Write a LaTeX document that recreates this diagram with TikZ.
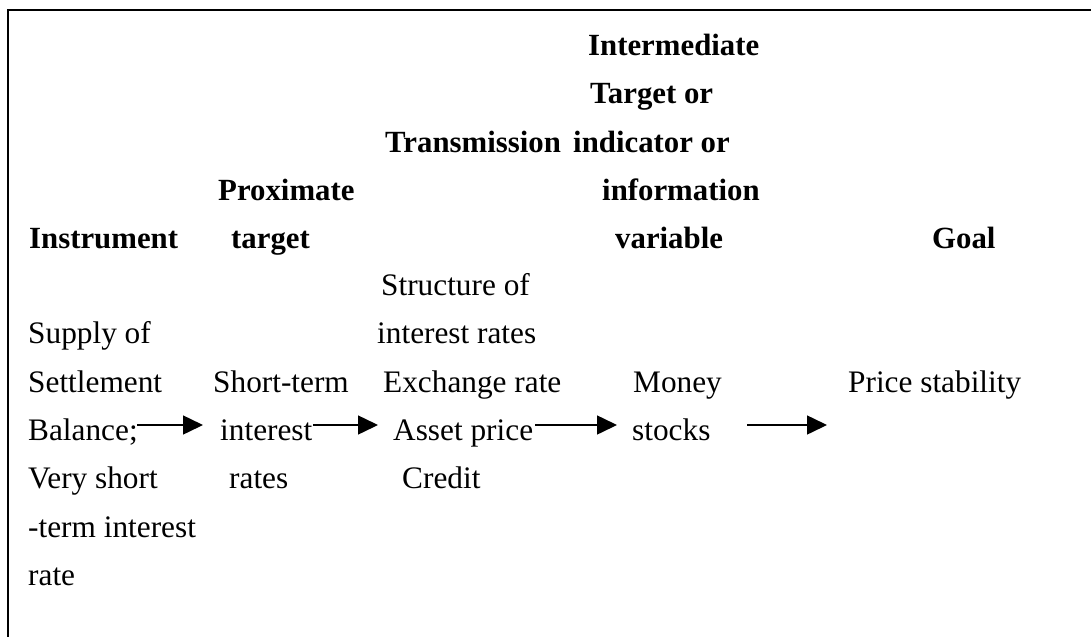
\documentclass[tikz,border=0pt]{standalone}
\usepackage{fontspec}
\setmainfont{Liberation Serif}
\usetikzlibrary{arrows.meta}
\tikzset{
  txt/.style={anchor=base west, inner sep=0pt, font=\fontsize{31.3}{36}\selectfont},
  hdr/.style={txt, font=\fontsize{30.8}{36}\selectfont\bfseries},
  arr/.style={line width=1.5pt, -{Triangle[length=20pt,width=19pt]}},
  frame/.style={line width=2pt}
}
\begin{document}
\begin{tikzpicture}[x=1pt,y=-1pt]
\useasboundingbox (0,0) rectangle (1091,637);
% frame (top and left edges)
\coordinate (fTR) at (1091,9.5);
\coordinate (fTL) at (7.5,9.5);
\coordinate (fBL) at (7.5,637);
\draw[frame] (fTR) -- (fTL) -- (fBL);
% headers
\node[hdr] (h41) at (588,55) {Intermediate};
\node[hdr] (h42) at (590,103) {Target or};
\node[hdr] (h3)  at (385,152) {Transmission};
\node[hdr] (h43) at (573,152) {indicator or};
\node[hdr] (h21) at (218,200) {Proximate};
\node[hdr] (h44) at (602,200) {information};
\node[hdr] (h1)  at (29,248) {Instrument};
\node[hdr] (h22) at (231,248) {target};
\node[hdr] (h45) at (615,248) {variable};
\node[hdr] (h5)  at (932,248) {Goal};
% body
\node[txt] (t1) at (381,295) {Structure of};
\node[txt] (i1) at (28,343) {Supply of};
\node[txt] (t2) at (377,343) {interest rates};
\node[txt] (i2) at (28,392) {Settlement};
\node[txt] (p1) at (213,392) {Short-term};
\node[txt] (t3) at (383,392) {Exchange rate};
\node[txt] (m1) at (633,392) {Money};
\node[txt] (g1) at (848,392) {Price stability};
\node[txt] (i3) at (28,440) {Balance;};
\node[txt] (p2) at (220,440) {interest};
\node[txt] (t4) at (393,440) {Asset price};
\node[txt] (m2) at (632,440) {stocks};
\node[txt] (i4) at (28,488) {Very short};
\node[txt] (p3) at (229,488) {rates};
\node[txt] (t5) at (402,488) {Credit};
\node[txt] (i5) at (28,537) {-term interest};
\node[txt] (i6) at (28,585) {rate};
% arrows
\coordinate (a1s) at (137,425); \coordinate (a1e) at (203,425);
\coordinate (a2s) at (313,425); \coordinate (a2e) at (378,425);
\coordinate (a3s) at (535,425); \coordinate (a3e) at (617,425);
\coordinate (a4s) at (747,425); \coordinate (a4e) at (827,425);
\draw[arr] (a1s) -- (a1e);
\draw[arr] (a2s) -- (a2e);
\draw[arr] (a3s) -- (a3e);
\draw[arr] (a4s) -- (a4e);
\end{tikzpicture}
\end{document}
